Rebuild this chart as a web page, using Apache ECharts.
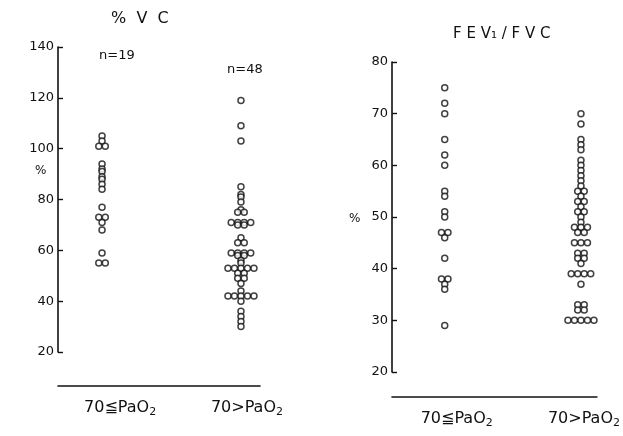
<!DOCTYPE html>
<html>
<head>
<meta charset="utf-8">
<script src="https://cdn.jsdelivr.net/npm/echarts@6/dist/echarts.min.js"></script>
<style>
  html, body { margin: 0; background: #fff; }
  #chart { width: 623px; height: 436px; }
</style>
</head>
<body>
<div id="chart"></div>
<script>
// groups on the x axis
const groups = ['70≦PaO2', '70>PaO2'];
const groupLabels = ['70≦PaO{s|2}', '70>PaO{s|2}'];

// %VC
const vcLow = [105, 103, 101, 101, 94, 92, 91, 89, 88, 86, 84, 77, 73, 73, 71, 68, 59, 55, 55];
const vcHigh = [119, 109, 103, 85, 82, 81, 79, 76, 75, 75, 71, 71, 71, 71, 70, 70, 65, 63, 63,
  59, 59, 59, 59, 58, 58, 56, 55, 53, 53, 53, 53, 53, 51, 51, 49, 49, 47, 44,
  42, 42, 42, 42, 42, 40, 36, 34, 32, 30];

// FEV1/FVC
const fevLow = [75, 72, 70, 65, 62, 60, 55, 54, 51, 50, 47, 47, 46, 42, 38, 38, 37, 36, 29];
const fevHigh = [70, 68, 65, 64, 63, 61, 60, 59, 58, 57, 56, 55, 55, 54, 53, 53, 52, 51, 51,
  50, 49, 48, 48, 48, 47, 47, 45, 45, 45, 43, 43, 42, 42, 41, 39, 39, 39, 39, 37,
  33, 33, 32, 32, 30, 30, 30, 30, 30];

const vcTicks = { min: 20, max: 140, interval: 20 };
const fevTicks = { min: 20, max: 80, interval: 10 };
const groupN = ['n=19', 'n=48'];

// same values sit side by side, like a dot plot
function dots(values, gi) {
  const seen = {};
  const count = {};
  values.forEach(v => { count[v] = (count[v] || 0) + 1; });
  return values.map(v => {
    const i = seen[v] || 0;
    seen[v] = i + 1;
    const dx = (i - (count[v] - 1) / 2) * 6.5;
    return { value: [gi, v], symbolOffset: [dx, 0] };
  });
}

const ink = '#111';
const font = 'DejaVu Sans';

function yAxisFor(gridIndex, t) {
  return {
    gridIndex, type: 'value', min: t.min, max: t.max, interval: t.interval,
    axisLine: { show: true, onZero: false, lineStyle: { color: ink, width: 1.6 } },
    axisTick: { show: true, inside: true, length: 5, lineStyle: { color: ink, width: 1.4 } },
    axisLabel: { color: ink, fontFamily: font, fontSize: 13, margin: 4 },
    splitLine: { show: false }
  };
}

function xAxisFor(gridIndex, min, max, offset, labelPos) {
  return {
    gridIndex, type: 'value', min, max, offset,
    axisLine: { show: true, onZero: false, lineStyle: { color: ink, width: 1.6 } },
    axisTick: { show: false },
    splitLine: { show: false },
    axisLabel: {
      customValues: labelPos,
      margin: 12,
      color: ink, fontFamily: font, fontSize: 16,
      formatter: v => groupLabels[labelPos.indexOf(v)],
      rich: { s: { fontSize: 11, fontFamily: font, color: ink, padding: [9, 0, 0, 0] } }
    }
  };
}

function dotSeries(values, gi, axisIndex) {
  return {
    type: 'scatter', xAxisIndex: axisIndex, yAxisIndex: axisIndex,
    data: dots(values, gi),
    symbol: 'circle', symbolSize: 6,
    clip: false,
    itemStyle: { color: '#fff', borderColor: ink, borderWidth: 1.5 },
    animation: false
  };
}

const txt = (text, left, top, size) => ({
  text, left, top,
  textStyle: { color: ink, fontFamily: font, fontSize: size, fontWeight: 'normal' }
});

const chart = echarts.init(document.getElementById('chart'));
chart.setOption({
  backgroundColor: '#fff',
  animation: false,
  title: [
    txt('%  V  C', 106, 6, 16),
    txt('F E V₁ / F V C', 448, 22, 15),
    txt(groupN[0], 94, 44, 13),
    txt(groupN[1], 222, 58, 13),
    txt('%', 30, 160, 12),
    txt('%', 344, 208, 12)
  ],
  grid: [
    { left: 58, top: 47, width: 202, bottom: 84 },
    { left: 392, top: 62, width: 206, bottom: 64 }
  ],
  xAxis: [
    xAxisFor(0, -0.317, 1.137, 34, [0.13, 1.043]),
    xAxisFor(1, -0.387, 1.117, 25, [0.088, 1.022])
  ],
  yAxis: [yAxisFor(0, vcTicks), yAxisFor(1, fevTicks)],
  series: [
    dotSeries(vcLow, 0, 0),
    dotSeries(vcHigh, 1, 0),
    dotSeries(fevLow, 0, 1),
    dotSeries(fevHigh, 1, 1)
  ]
});
</script>
</body>
</html>
